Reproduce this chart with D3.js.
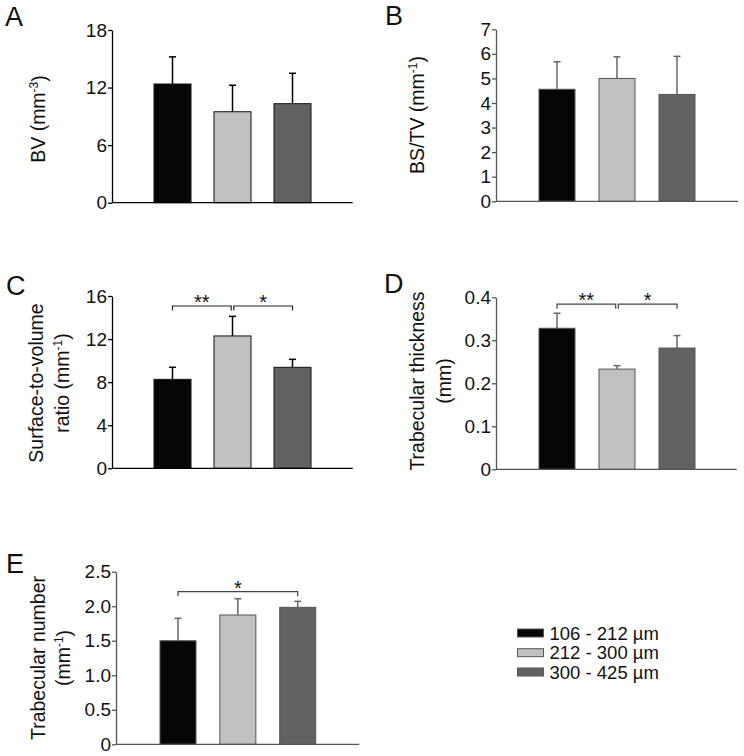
<!DOCTYPE html>
<html>
<head>
<meta charset="utf-8">
<script src="https://cdn.jsdelivr.net/npm/d3@7/dist/d3.min.js"></script>
<style>
  html, body { margin: 0; padding: 0; background: #fff; }
  svg { display: block; font-family: "Liberation Sans", Arial, Helvetica, sans-serif; }
</style>
</head>
<body>
<svg id="chart" width="744" height="756"></svg>
<script>
// ---- Data ----
const groups = ["106 - 212 µm", "212 - 300 µm", "300 - 425 µm"];
const groupColors = ["#060606", "#c1c1c1", "#626262"];

const bvMean = [12.37, 9.48, 10.32];
const bvErr = [2.83, 2.76, 3.17];
const bvTicks = [0, 6, 12, 18];

const bstvMean = [4.56, 5.0, 4.35];
const bstvErr = [1.12, 0.88, 1.55];
const bstvTicks = [0, 1, 2, 3, 4, 5, 6, 7];

const svrMean = [8.26, 12.29, 9.38];
const svrErr = [1.12, 1.82, 0.74];
const svrTicks = [0, 4, 8, 12, 16];

const tbthMean = [0.328, 0.233, 0.282];
const tbthErr = [0.035, 0.008, 0.029];
const tbthTicks = [0, 0.1, 0.2, 0.3, 0.4];
const tbthTickLabels = ["0", "0.1", "0.2", "0.3", "0.4"];

const tbnMean = [1.50, 1.873, 1.984];
const tbnErr = [0.325, 0.236, 0.087];
const tbnTicks = [0, 0.5, 1.0, 1.5, 2.0, 2.5];
const tbnTickLabels = ["0", "0.5", "1.0", "1.5", "2.0", "2.5"];

// significance brackets: [fromIndex, toIndex, label, level]
const svrSig = [[0, 1, "**", 15.07], [1, 2, "*", 15.07]];
const tbthSig = [[0, 1, "**", 0.384], [1, 2, "*", 0.384]];
const tbnSig = [[0, 2, "*", 2.21]];

// ---- Layout ----
const svg = d3.select("#chart");
const TICK_FS = 19, TITLE_FS = 19.5, LEG_FS = 18.5, LETTER_FS = 27, STAR_FS = 20;

const panels = [
  { letter: "A", lx: 5, ly: 26, ax: 112, top: 30, bottom: 202.7, right: 352.7, c0: 172.5, c2: 292.5, bw: 37,
    mean: bvMean, err: bvErr, ticks: bvTicks, labels: null, max: 18, axisColor: "#000", errColor: "#000", outline: "#111",
    title: [["BV (mm", "-3", ")"]], tx: [38], ty: 119, sig: [] },
  { letter: "B", lx: 385, ly: 25, ax: 496, top: 29.3, bottom: 201.3, right: 738, c0: 557, c2: 677, bw: 36,
    mean: bstvMean, err: bstvErr, ticks: bstvTicks, labels: null, max: 7, axisColor: "#555", errColor: "#666", outline: "#555",
    title: [["BS/TV (mm", "-1", ")"]], tx: [416.7], ty: 115, sig: [] },
  { letter: "C", lx: 6, ly: 295, ax: 112, top: 296, bottom: 468.3, right: 352.7, c0: 172.5, c2: 292.5, bw: 37,
    mean: svrMean, err: svrErr, ticks: svrTicks, labels: null, max: 16, axisColor: "#000", errColor: "#000", outline: "#111",
    title: [["Surface-to-volume"], ["ratio (mm", "-1", ")"]], tx: [36, 61.7], ty: 383, sig: svrSig },
  { letter: "D", lx: 384, ly: 293, ax: 496, top: 297.3, bottom: 469.3, right: 736.7, c0: 557, c2: 677, bw: 36,
    mean: tbthMean, err: tbthErr, ticks: tbthTicks, labels: tbthTickLabels, max: 0.4, axisColor: "#555", errColor: "#666", outline: "#555",
    title: [["Trabecular thickness"], ["(mm)"]], tx: [416.7, 444], ty: 381, sig: tbthSig },
  { letter: "E", lx: 6, ly: 572.5, ax: 116, top: 571.7, bottom: 744.3, right: 359.3, c0: 178, c2: 297.7, bw: 36,
    mean: tbnMean, err: tbnErr, ticks: tbnTicks, labels: tbnTickLabels, max: 2.5, axisColor: "#555", errColor: "#666", outline: "#555",
    title: [["Trabecular number"], ["(mm", "-1", ")"]], tx: [38.3, 63.3], ty: 658, sig: tbnSig }
];

panels.forEach(p => {
  const g = svg.append("g");
  const y = d3.scaleLinear().domain([0, p.max]).range([p.bottom, p.top]);
  const x = d3.scalePoint().domain(groups).range([p.c0, p.c2]);

  // bars
  g.selectAll("rect.bar").data(groups).join("rect")
    .attr("class", "bar")
    .attr("x", d => x(d) - p.bw / 2)
    .attr("width", p.bw)
    .attr("y", (d, i) => y(p.mean[i]))
    .attr("height", (d, i) => y(0) - y(p.mean[i]))
    .attr("fill", (d, i) => groupColors[i])
    .attr("stroke", p.outline)
    .attr("stroke-width", 1);

  // error bars (upper only)
  groups.forEach((d, i) => {
    const cx = x(d);
    g.append("line").attr("x1", cx).attr("x2", cx)
      .attr("y1", y(p.mean[i])).attr("y2", y(p.mean[i] + p.err[i]))
      .attr("stroke", p.errColor).attr("stroke-width", 1.5);
    g.append("line").attr("x1", cx - 3.5).attr("x2", cx + 3.5)
      .attr("y1", y(p.mean[i] + p.err[i])).attr("y2", y(p.mean[i] + p.err[i]))
      .attr("stroke", p.errColor).attr("stroke-width", 1.5);
  });

  // y axis
  const axis = d3.axisLeft(y).tickValues(p.ticks).tickSize(4).tickSizeOuter(0).tickPadding(1)
    .tickFormat((d, i) => p.labels ? p.labels[i] : String(d));
  const ag = g.append("g").attr("transform", `translate(${p.ax},0)`).call(axis);
  ag.select(".domain").attr("stroke", p.axisColor).attr("stroke-width", 1.3);
  ag.selectAll(".tick line").attr("stroke", p.axisColor).attr("stroke-width", 1.3);
  ag.selectAll(".tick text").attr("fill", "#111").attr("font-size", TICK_FS)
    .attr("font-family", "'Liberation Sans', Arial, sans-serif");

  // x axis baseline
  g.append("line").attr("x1", p.ax).attr("x2", p.right)
    .attr("y1", y(0)).attr("y2", y(0))
    .attr("stroke", p.axisColor).attr("stroke-width", 1.3);

  // panel letter
  svg.append("text").attr("x", p.lx).attr("y", p.ly).text(p.letter)
    .attr("font-size", LETTER_FS).attr("fill", "#111");

  // y title (rotated, possibly multi-line)
  p.title.forEach((parts, li) => {
    const t = svg.append("text")
      .attr("transform", `translate(${p.tx[li]},${p.ty}) rotate(-90)`)
      .attr("text-anchor", "middle").attr("dy", "0.36em")
      .attr("font-size", TITLE_FS).attr("fill", "#111");
    parts.forEach((s, k) => {
      if (parts.length === 3 && k === 1) {
        t.append("tspan").attr("font-size", 12).attr("dy", "-0.6em").text(s);
      } else if (parts.length === 3 && k === 2) {
        t.append("tspan").attr("dy", "0.4em").text(s);
      } else {
        t.append("tspan").text(s);
      }
    });
  });

  // significance brackets
  p.sig.forEach(([a, b, lab, lvl]) => {
    const inset = 1.3;
    const x1 = x(groups[a]) + (a === 0 ? 0 : inset);
    const x2 = x(groups[b]) - (b === 1 ? inset : 0);
    const yl = y(lvl);
    g.append("path")
      .attr("d", `M${x1},${yl + 4.5}V${yl}H${x2}V${yl + 4.5}`)
      .attr("fill", "none").attr("stroke", p.axisColor === "#000" ? "#222" : "#444").attr("stroke-width", 1.2);
    g.append("text").attr("x", (x1 + x2) / 2).attr("y", yl + 3)
      .attr("text-anchor", "middle").attr("font-size", STAR_FS).attr("fill", "#111").text(lab);
  });
});

// legend
const legY = [633, 652.7, 672];
const leg = svg.append("g");
groups.forEach((gname, i) => {
  leg.append("rect").attr("x", 517.5).attr("y", legY[i] - 4).attr("width", 26).attr("height", 8)
    .attr("fill", groupColors[i]).attr("stroke", "#555").attr("stroke-width", 1);
  leg.append("text").attr("x", 549.5).attr("y", legY[i]).attr("dy", "0.36em")
    .attr("font-size", LEG_FS).attr("fill", "#111").text(gname);
});
</script>
</body>
</html>
